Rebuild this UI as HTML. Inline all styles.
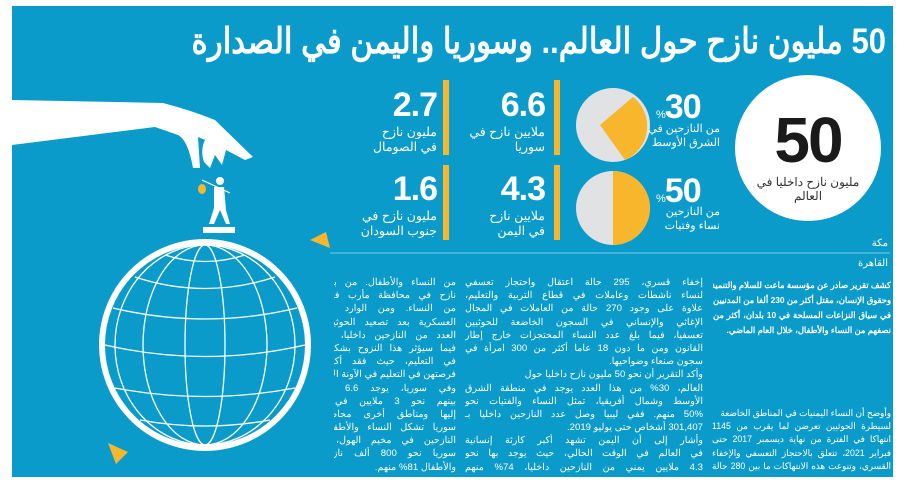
<!DOCTYPE html>
<html><head><meta charset="utf-8">
<style>
*{margin:0;padding:0;box-sizing:border-box}
body{width:900px;height:485px;background:#fff;position:relative;overflow:hidden;font-family:"Liberation Sans","Noto Sans CJK SC",sans-serif;color:#fff}
#bg{position:absolute;left:12px;top:6px;width:881px;height:471px;background:#0a9bcb}
.a{position:absolute}
.t{direction:rtl;white-space:nowrap}
.num{font-weight:bold;font-size:34px;letter-spacing:-1px;line-height:34px;text-align:right}
.lab{font-size:12.5px;line-height:15px;text-align:right}
.bar{position:absolute;width:6px;background:#f8b62d}
.col div{direction:rtl;text-align:justify;text-align-last:justify;white-space:nowrap;overflow:hidden;height:13.2px;line-height:13.2px}
</style></head><body>
<div id="bg"></div>
<div class="a t" style="right:14px;top:16px;font-size:31px;font-weight:bold;line-height:44px;transform:scaleY(1.15);transform-origin:right top">50 مليون نازح حول العالم.. وسوريا واليمن في الصدارة</div>

<svg class="a" style="left:0;top:0" width="900" height="485">
<path d="M12 100 L163 103 Q190 110 215 120 L253 157 L245 160 L226 150 L222 165 L215 155 L210 168 L204 162 Q200 150 205 140 L198 137 L200 168 L193 168 Q188 140 178 135 L155 127 L12 145 Z" fill="#fff"/>
<circle cx="220" cy="181" r="4" fill="#fff"/>
<path d="M214 187 L224 187 L226 210 L230 224 L226 224 L220 210 L214 224 L209 224 L214 208 Z" fill="#fff"/>
<line x1="202" y1="180" x2="230" y2="193" stroke="#fff" stroke-width="1.2"/>
<ellipse cx="202" cy="189" rx="4" ry="5" fill="#f8b62d"/>
<rect x="203" y="227" width="32" height="6" fill="#fff"/>
<g fill="none" stroke="#fff">
<circle cx="205" cy="345" r="103" stroke-width="6"/>
<g stroke-width="1.3">
<ellipse cx="205" cy="345" rx="20" ry="100"/>
<ellipse cx="205" cy="345" rx="62" ry="100"/>
<ellipse cx="205" cy="345" rx="90" ry="100"/>
<path d="M165 255 Q205 268 245 255"/>
<path d="M135 277 Q205 300 275 277"/>
<path d="M113 308 Q205 330 297 308"/>
<path d="M105 345 Q205 368 305 345"/>
<path d="M115 388 Q205 405 295 388"/>
<path d="M140 420 Q205 432 270 420"/>
</g></g>
<path d="M310 240 L330 248 L326 232 Z" fill="#f8b62d"/>
<path d="M108 443 L128 452 L116 464 Z" fill="#f8b62d"/>
<circle cx="613" cy="125" r="37" fill="#e1e2e3"/>
<path d="M600 125 L633 97 A37 37 0 0 1 625 160 Z" fill="#f8b62d"/>
<circle cx="613" cy="208" r="37" fill="#e1e2e3"/>
<path d="M613 171 A37 37 0 0 1 613 245 Z" fill="#f8b62d"/>
<circle cx="808" cy="148" r="73" fill="#fff"/>
<line x1="330" y1="253" x2="890" y2="253" stroke="#7cc8e4" stroke-width="1"/>
</svg>

<div class="bar" style="left:443px;top:80px;height:75px"></div>
<div class="bar" style="left:554px;top:80px;height:75px"></div>
<div class="bar" style="left:443px;top:165px;height:75px"></div>
<div class="bar" style="left:554px;top:165px;height:75px"></div>

<div class="a num" style="right:355px;top:88px;width:80px">6.6</div>
<div class="a lab t" style="right:355px;top:125px">ملايين نازح في<br>سوريا</div>
<div class="a num" style="right:355px;top:172px;width:80px">4.3</div>
<div class="a lab t" style="right:355px;top:209px">ملايين نازح<br>في اليمن</div>
<div class="a num" style="right:463px;top:88px;width:80px">2.7</div>
<div class="a lab t" style="right:463px;top:125px">مليون نازح<br>في الصومال</div>
<div class="a num" style="right:463px;top:172px;width:80px">1.6</div>
<div class="a lab t" style="right:463px;top:209px">مليون نازح في<br>جنوب السودان</div>

<div class="a num" style="left:656px;top:90px;width:50px;text-align:left"><span style="font-size:11px;font-weight:normal">%</span>30</div>
<div class="a t" style="right:180px;top:122px;font-size:11px;line-height:14px;text-align:right">من النازحين في<br>الشرق الأوسط</div>
<div class="a num" style="left:656px;top:174px;width:50px;text-align:left"><span style="font-size:11px;font-weight:normal">%</span>50</div>
<div class="a t" style="right:180px;top:205px;font-size:11px;line-height:14px;text-align:right">من النازحين<br>نساء وفتيات</div>

<div class="a" style="left:762px;top:108px;width:92px;text-align:center;color:#1a1a1a;font-weight:bold;font-size:64px;line-height:64px;letter-spacing:-2px">50</div>
<div class="a t" style="left:735px;top:175px;width:146px;text-align:center;color:#333;font-size:12px;line-height:14px">مليون نازح داخليا في<br>العالم</div>

<div class="a t" style="right:12px;top:238px;font-size:10px">مكة</div>
<div class="a t" style="right:12px;top:258px;font-size:10px">القاهرة</div>

<div class="a col" style="left:713px;top:278px;width:178px;font-size:8.4px;font-weight:bold">
<div style="height:15px;line-height:15px">كشف تقرير صادر عن مؤسسة ماعت للسلام والتنمية</div>
<div style="height:15px;line-height:15px">وحقوق الإنسان، مقتل أكثر من 230 ألفا من المدنيين</div>
<div style="height:15px;line-height:15px">في سياق النزاعات المسلحة في 10 بلدان، أكثر من</div>
<div style="height:15px;line-height:15px;text-align-last:right">نصفهم من النساء والأطفال، خلال العام الماضي.</div>
</div>
<div class="a col" style="left:712px;top:407px;width:179px;font-size:8.8px">
<div style="text-align-last:right">وأوضح أن النساء اليمنيات في المناطق الخاضعة</div>
<div>لسيطرة الحوثيين تعرضن لما يقرب من 1145</div>
<div>انتهاكا في الفترة من نهاية ديسمبر 2017 حتى</div>
<div>فبراير 2021، تتعلق بالاحتجاز التعسفي والإخفاء</div>
<div>القسري، وتنوعت هذه الانتهاكات ما بين 280 حالة</div>
</div>
<div class="a col" style="left:465px;top:276px;width:238px;font-size:9.6px">
<div>إخفاء قسري، 295 حالة اعتقال واحتجاز تعسفي</div>
<div>لنساء ناشطات وعاملات في قطاع التربية والتعليم،</div>
<div>علاوة على وجود 270 حالة من العاملات في المجال</div>
<div>الإغاثي والإنساني في السجون الخاضعة للحوثيين</div>
<div>تعسفيا، فيما بلغ عدد النساء المحتجزات خارج إطار</div>
<div>القانون ومن ما دون 18 عاما أكثر من 300 امرأة في</div>
<div style="text-align-last:right">سجون صنعاء وضواحيها.</div>
<div style="text-align-last:right">وأكد التقرير أن نحو 50 مليون نازح داخليا حول</div>
<div>العالم، 30% من هذا العدد يوجد في منطقة الشرق</div>
<div>الأوسط وشمال أفريقيا، تمثل النساء والفتيات نحو</div>
<div>50% منهم. ففي ليبيا وصل عدد النازحين داخليا بـ</div>
<div style="text-align-last:right">301,407 أشخاص حتى يوليو 2019.</div>
<div>وأشار إلى أن اليمن تشهد أكبر كارثة إنسانية</div>
<div>في العالم في الوقت الحالي، حيث يوجد بها نحو</div>
<div>4.3 ملايين يمني من النازحين داخليا، 74% منهم</div>
</div>
<div class="a" style="left:334px;top:276px;width:122px;height:200px;overflow:hidden">
<div class="a col" style="right:0;top:0;width:238px;font-size:9.6px">
<div>من النساء والأطفال. من بينهم من يصل إلى مليون</div>
<div>نازح في محافظة مأرب فقط، أكثر من 50% منهم</div>
<div>من النساء. ومن الوارد أن يؤثر تصاعد العمليات</div>
<div>العسكرية بعد تصعيد الحوثيين على مأرب على هذا</div>
<div>العدد من النازحين داخليا، لا سيما النساء والأطفال،</div>
<div>فيما سيؤثر هذا النزوح بشكل عام على فرص الفتيات</div>
<div>في التعليم، حيث فقد أكثر من 48% من النساء</div>
<div style="text-align-last:right">فرصتهن في التعليم في الآونة الأخيرة.</div>
<div>وفي سوريا، يوجد 6.6 ملايين نازح داخلي، من</div>
<div>بينهم نحو 3 ملايين في مناطق يصعب الوصول</div>
<div>إليها ومناطق أخرى محاصرة، ففي شمال شرق</div>
<div>سوريا تشكل النساء والأطفال نسبة 96% من أعداد</div>
<div>النازحين في مخيم الهول، ويوجد في شمال غرب</div>
<div>سوريا نحو 800 ألف نازح داخلي، يشكل النساء</div>
<div style="text-align-last:right">والأطفال 81% منهم.</div>
</div>
</div>
</body></html>
